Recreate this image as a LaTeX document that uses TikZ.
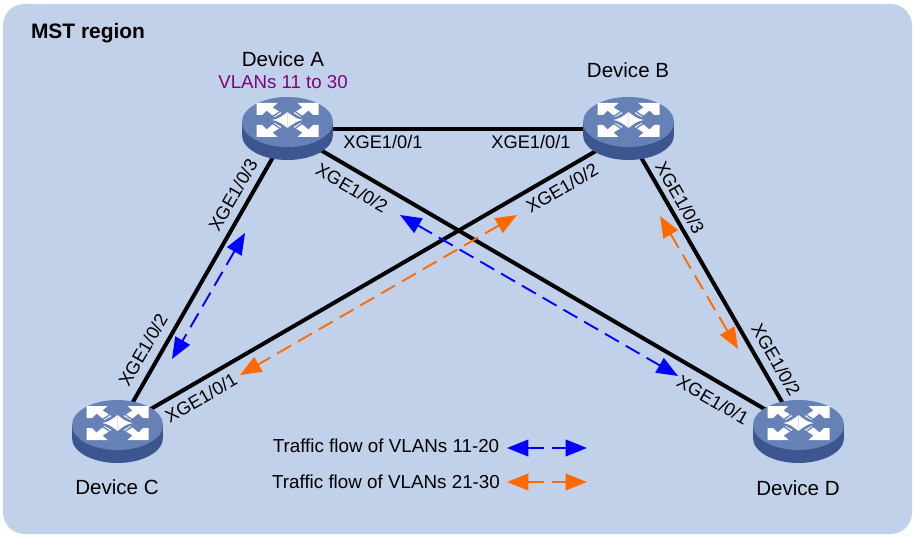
\documentclass[tikz,border=0pt]{standalone}
\usepackage{fontspec}
\setmainfont{Liberation Sans}
\usetikzlibrary{shapes.geometric,arrows.meta}
\definecolor{panelcol}{HTML}{C2D1EA}
\definecolor{topcol}{HTML}{6681B6}
\definecolor{sidecol}{HTML}{3E568F}
\definecolor{vlancol}{HTML}{800080}
\definecolor{flowblue}{HTML}{0000FF}
\definecolor{floworange}{HTML}{FF6A00}
\tikzstyle{router} = [ellipse, minimum width=60pt, minimum height=38pt, inner sep=0pt]
\tikzstyle{link} = [line width=3pt, black]
\tikzstyle{devicelabel} = [inner sep=0pt, font=\fontsize{15.4}{18}\selectfont]
\tikzstyle{vlanlabel} = [inner sep=0pt, text=vlancol, font=\fontsize{14}{16}\selectfont]
\tikzstyle{portlabel} = [inner sep=0pt, font=\fontsize{13.7}{16}\selectfont]
\tikzstyle{legendlabel} = [inner sep=0pt, font=\fontsize{14.1}{17}\selectfont]
\tikzstyle{regionlabel} = [inner sep=0pt, font=\fontsize{15.7}{18}\selectfont\bfseries]
\tikzstyle{flow} = [line width=1.4pt, dash pattern=on 12pt off 6pt, {Triangle[length=16pt,width=12.5pt]}-{Triangle[length=16pt,width=12.5pt]}]
\tikzset{
  routericon/.pic={
    \fill [sidecol] (-45.5,0) rectangle (45.5,13);
    \fill [sidecol] (0,13) ellipse [x radius=45.5, y radius=25];
    \fill [topcol] (0,0) ellipse [x radius=45.5, y radius=25];
    \begin{scope}[shift={(0,-2)}]
      \foreach \sx/\sy in {1/1,-1/1,1/-1,-1/-1} {
        \begin{scope}[xscale=\sx, yscale=\sy]
          % corner arrow
          \fill [white] (-31,-17) -- (-10,-17) -- (-15,-12.5) -- (-6,-7) -- (-13,-3) -- (-21,-9.5) -- (-25.5,-5) -- (-31,-5) -- cycle;
          % middle part
          \fill [white] (-15,0) .. controls (-9,-1) and (-5,-4) .. (0,-8) -- (0,0) -- cycle;
        \end{scope}
      }
      \foreach \sx/\sy in {1/1,-1/1,1/-1,-1/-1} {
        \begin{scope}[xscale=\sx, yscale=\sy]
          \draw [topcol, line width=1pt] (-20,-1.5) .. controls (-14,-3) and (-10,-7) .. (-4,-11);
        \end{scope}
      }
    \end{scope}
  }
}
\begin{document}
\begin{tikzpicture}[x=0.75pt, y=-0.75pt]
        \useasboundingbox (0,0) rectangle (916,538);
        \fill [white] (0,0) rectangle (916,538);
        \fill [panelcol, rounded corners=16pt] (3,4) rectangle (912,534);
        \node (region) [regionlabel] at (88,33) {MST region};
        % devices
        \node (deva) [router] at (288,131) {};
        \node (devb) [router] at (627,133) {};
        \node (devc) [router] at (118,428) {};
        \node (devd) [router] at (797,428) {};
        \node (namea) [devicelabel] at (283,59) {Device A};
        \node (vlana) [vlanlabel] at (283,82) {VLANs 11 to 30};
        \node (nameb) [devicelabel] at (628,70) {Device B};
        \node (namec) [devicelabel] at (117,487) {Device C};
        \node (named) [devicelabel] at (798,488) {Device D};
        % links
        \draw [link] ([yshift=1.5pt]deva.center) -- ([yshift=3pt]devb.center);
        \draw [link] (deva) -- (devc);
        \draw [link] (deva) -- (devd);
        \draw [link] (devb) -- (devc);
        \draw [link] (devb) -- (devd);
        \pic at (287.5,122) {routericon};
        \pic at (628.5,122) {routericon};
        \pic at (117.5,425) {routericon};
        \pic at (798.5,425) {routericon};
        % ports
        \node (portab) [portlabel] at (383,142) {XGE1/0/1};
        \node (portba) [portlabel] at (531,142) {XGE1/0/1};
        \node (portac) [portlabel, rotate=60] at (233,195) {XGE1/0/3};
        \node (portca) [portlabel, rotate=60] at (143,350) {XGE1/0/2};
        \node (portcb) [portlabel, rotate=30] at (201,398) {XGE1/0/1};
        \node (portad) [portlabel, rotate=-30] at (352,188) {XGE1/0/2};
        \node (portbc) [portlabel, rotate=30] at (562,188) {XGE1/0/2};
        \node (portbd) [portlabel, rotate=-60] at (680,198) {XGE1/0/3};
        \node (portdb) [portlabel, rotate=-60] at (776,360) {XGE1/0/2};
        \node (portda) [portlabel, rotate=-30] at (713,400) {XGE1/0/1};
        % traffic flows
        \coordinate (flowa1) at (245,233);
        \coordinate (flowa2) at (172,359);
        \coordinate (flowb1) at (400,215);
        \coordinate (flowb2) at (678,376);
        \coordinate (flowc1) at (517,215);
        \coordinate (flowc2) at (240,375);
        \coordinate (flowd1) at (660,216);
        \coordinate (flowd2) at (738,349);
        \draw [flow, flowblue] (flowa1) -- (flowa2);
        \draw [flow, flowblue] (flowb1) -- (flowb2);
        \draw [flow, floworange] (flowc1) -- (flowc2);
        \draw [flow, floworange] (flowd1) -- (flowd2);
        % legend
        \node (legblue) [legendlabel] at (386,446) {Traffic flow of VLANs 11-20};
        \node (legorange) [legendlabel] at (386,482) {Traffic flow of VLANs 21-30};
        \coordinate (bluea) at (507,448);
        \coordinate (blueb) at (587,448);
        \coordinate (orangea) at (507,482);
        \coordinate (orangeb) at (587,482);
        \draw [flow, flowblue] (bluea) -- (blueb);
        \draw [flow, floworange] (orangea) -- (orangeb);
\end{tikzpicture}
\end{document}
